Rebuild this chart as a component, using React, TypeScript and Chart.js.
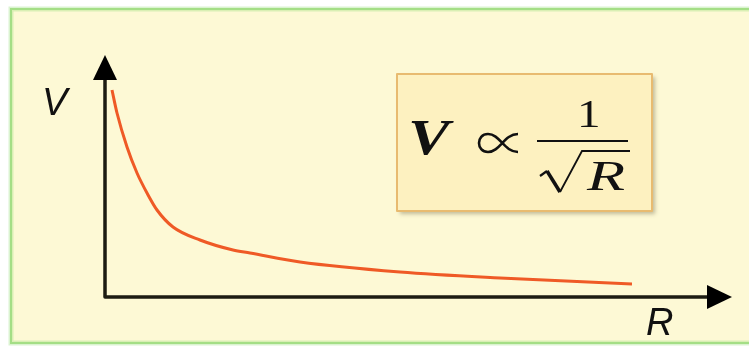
import React, { useEffect, useRef } from "react";
import { Chart, registerables } from "chart.js";

Chart.register(...registerables);

// Resistance R (arbitrary units along the x axis)
const rValues = [7, 12, 22, 32, 42, 52, 68, 95, 128, 145, 195, 295, 395, 527];
// Voltage V (arbitrary units along the y axis)
const vValues = [207, 184, 150, 124, 104, 87, 70, 57, 47, 44, 35, 25, 19, 13];
const xMax = 627;
const yMax = 242;
const xLabel = "R";
const yLabel = "V";

function scaledText(ctx: any, text: string, x: number, y: number, sx: number) {
  ctx.save();
  ctx.translate(x, y);
  ctx.scale(sx, 1);
  ctx.fillText(text, 0, 0);
  ctx.restore();
}

const decor = {
  id: "decor",
  beforeDraw(chart: any) {
    const ctx = chart.ctx;
    const W = chart.width;
    ctx.save();
    ctx.fillStyle = "#ffffff";
    ctx.fillRect(0, 0, W, chart.height);
    ctx.fillStyle = "#fdf9d5";
    ctx.fillRect(11, 9, W - 11 + 5, 334);
    ctx.strokeStyle = "rgba(150,220,120,0.35)";
    ctx.lineWidth = 5;
    ctx.strokeRect(11, 9, W - 11 + 10, 334);
    ctx.strokeStyle = "#a4de86";
    ctx.lineWidth = 2;
    ctx.strokeRect(11, 9, W - 11 + 10, 334);
    ctx.restore();
  },
  afterDraw(chart: any) {
    const ctx = chart.ctx;
    const xs = chart.scales.x;
    const ys = chart.scales.y;
    const x0 = xs.getPixelForValue(0);
    const y0 = ys.getPixelForValue(0);
    const yTop = ys.getPixelForValue(yMax);
    const xRight = xs.getPixelForValue(xMax);
    ctx.save();
    // axes
    ctx.strokeStyle = "#1c1c12";
    ctx.lineWidth = 3.5;
    ctx.lineJoin = "round";
    ctx.beginPath();
    ctx.moveTo(x0, yTop + 20);
    ctx.lineTo(x0, y0);
    ctx.lineTo(xRight - 20, y0);
    ctx.stroke();
    ctx.fillStyle = "#000000";
    ctx.beginPath();
    ctx.moveTo(x0, yTop);
    ctx.lineTo(x0 - 12, yTop + 25);
    ctx.lineTo(x0 + 12, yTop + 25);
    ctx.closePath();
    ctx.fill();
    ctx.beginPath();
    ctx.moveTo(xRight, y0);
    ctx.lineTo(xRight - 25, y0 - 12);
    ctx.lineTo(xRight - 25, y0 + 12);
    ctx.closePath();
    ctx.fill();
    // axis labels
    ctx.fillStyle = "#111111";
    ctx.font = 'italic 38px "Liberation Sans"';
    ctx.textAlign = "left";
    ctx.textBaseline = "alphabetic";
    ctx.fillText(yLabel, 42, 115);
    ctx.fillText(xLabel, 646, 335);

    // formula box
    ctx.save();
    ctx.shadowColor = "rgba(120,110,80,0.45)";
    ctx.shadowBlur = 4;
    ctx.shadowOffsetX = 3;
    ctx.shadowOffsetY = 3;
    ctx.fillStyle = "#fdf1c0";
    ctx.fillRect(397, 74, 255, 137);
    ctx.restore();
    ctx.strokeStyle = "#e8bb70";
    ctx.lineWidth = 2;
    ctx.strokeRect(397, 74, 255, 137);

    ctx.fillStyle = "#111111";
    ctx.font = 'bold italic 51px "Liberation Serif"';
    scaledText(ctx, "V", 408, 154, 1.22);
    ctx.font = '41px "Liberation Serif"';
    scaledText(ctx, "1", 577, 127, 1.15);
    ctx.font = 'italic 43px "Liberation Serif"';
    scaledText(ctx, "R", 587, 190, 1.45);
    // proportional sign
    ctx.strokeStyle = "#111111";
    ctx.lineWidth = 2.6;
    ctx.beginPath();
    ctx.moveTo(518, 134);
    ctx.bezierCurveTo(504, 134, 500, 152, 488, 152);
    ctx.bezierCurveTo(476, 152, 476, 134, 488, 134);
    ctx.bezierCurveTo(500, 134, 504, 152, 518, 152);
    ctx.stroke();
    // fraction bar
    ctx.fillRect(537, 140, 91, 2);
    // sqrt sign
    ctx.lineWidth = 2.2;
    ctx.lineJoin = "miter";
    ctx.beginPath();
    ctx.moveTo(540, 176);
    ctx.lineTo(547, 171);
    ctx.stroke();
    ctx.lineWidth = 3.5;
    ctx.beginPath();
    ctx.moveTo(547, 171);
    ctx.lineTo(560, 192);
    ctx.stroke();
    ctx.lineWidth = 1.8;
    ctx.beginPath();
    ctx.moveTo(560, 192);
    ctx.lineTo(582, 151);
    ctx.lineTo(630, 151);
    ctx.stroke();
    ctx.restore();
  },
};

export default function App() {
  const ref = useRef<HTMLCanvasElement>(null);
  useEffect(() => {
    document.body.style.margin = "0";
    const canvas = ref.current!;
    const chart = new Chart(canvas, {
      type: "line",
      data: {
        datasets: [
          {
            data: rValues.map((r, i) => ({ x: r, y: vValues[i] })),
            borderColor: "#ef5a26",
            borderWidth: 3,
            pointRadius: 0,
            cubicInterpolationMode: "monotone",
            fill: false,
          },
        ],
      },
      options: {
        animation: false,
        responsive: false,
        devicePixelRatio: 1,
        layout: { padding: { left: 105, right: 17, top: 55, bottom: 51 } },
        plugins: { legend: { display: false }, tooltip: { enabled: false } },
        scales: {
          x: { type: "linear", min: 0, max: xMax, display: false },
          y: { type: "linear", min: 0, max: yMax, display: false },
        },
      },
      plugins: [decor],
    });
    return () => chart.destroy();
  }, []);
  return (
    <div style={{ width: 749, height: 348 }}>
      <canvas ref={ref} width={749} height={348} style={{ display: "block" }} />
    </div>
  );
}
